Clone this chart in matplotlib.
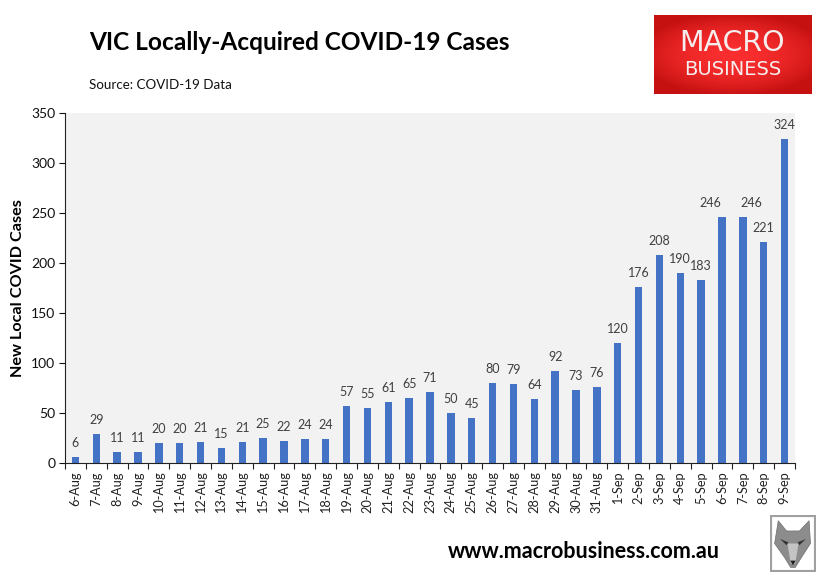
import numpy as np
import matplotlib
matplotlib.use('Agg')
import matplotlib.pyplot as plt
from matplotlib.patches import Rectangle, Polygon

plt.rcParams['font.family'] = ['Lato', 'DejaVu Sans']

days = ['6-Aug', '7-Aug', '8-Aug', '9-Aug', '10-Aug', '11-Aug', '12-Aug', '13-Aug', '14-Aug',
        '15-Aug', '16-Aug', '17-Aug', '18-Aug', '19-Aug', '20-Aug', '21-Aug', '22-Aug', '23-Aug',
        '24-Aug', '25-Aug', '26-Aug', '27-Aug', '28-Aug', '29-Aug', '30-Aug', '31-Aug',
        '1-Sep', '2-Sep', '3-Sep', '4-Sep', '5-Sep', '6-Sep', '7-Sep', '8-Sep', '9-Sep']
cases = [6, 29, 11, 11, 20, 20, 21, 15, 21, 25, 22, 24, 24, 57, 55, 61, 65, 71, 50, 45,
         80, 79, 64, 92, 73, 76, 120, 176, 208, 190, 183, 246, 246, 221, 324]
y_ticks = [0, 50, 100, 150, 200, 250, 300, 350]

W, H = 822, 586
fig = plt.figure(figsize=(W / 100, H / 100), dpi=100, facecolor='white')


def box(x0, y0, x1, y1):
    # pixel box (top-left origin) to figure fractions
    return [x0 / W, 1 - y1 / H, (x1 - x0) / W, (y1 - y0) / H]


ax = fig.add_axes(box(65, 113, 795, 463))
ax.set_facecolor('#f2f2f2')
x = np.arange(len(cases))
ax.bar(x, cases, width=0.36, color='#4472c4')
ax.set_xlim(-0.5, len(cases) - 0.5)
ax.set_ylim(0, 350)

# two labels were dragged sideways in the original, they would overlap otherwise
nudge = {'6-Sep': -8.5, '7-Sep': 6}
for xi, v, d in zip(x, cases, days):
    ax.annotate(str(v), (xi, v), xytext=(nudge.get(d, 0), 6), textcoords='offset points', ha='center',
                va='bottom', fontsize=9, color='#404040')

for s in ['top', 'right']:
    ax.spines[s].set_visible(False)
for s in ['left', 'bottom']:
    ax.spines[s].set_color('#222222')
    ax.spines[s].set_linewidth(0.8)

ax.set_yticks(y_ticks)
ax.tick_params(axis='y', labelsize=10, length=4, width=0.8, pad=3, colors='#111111')
ax.set_xticks(np.append(x - 0.5, x[-1] + 0.5))
ax.set_xticklabels([])
ax.tick_params(axis='x', length=4, width=0.8, direction='out', color='#222222')
ax.set_xticks(x, minor=True)
ax.set_xticklabels(days, minor=True, rotation=90, fontsize=9.2, color='#222222')
ax.tick_params(axis='x', which='minor', length=0, pad=6)
ax.set_ylabel('New Local COVID Cases', fontsize=11.7, fontweight='bold', color='black', labelpad=4)

fig.text(89 / W, 1 - 42.5 / H, 'VIC Locally-Acquired COVID-19 Cases', fontsize=17.6, fontweight='bold',
         va='center', ha='left', color='black')
fig.text(89 / W, 1 - 85 / H, 'Source: COVID-19 Data', fontsize=9.6, va='center', ha='left', color='#111111')
fig.text(448 / W, 1 - 552 / H, 'www.macrobusiness.com.au', fontsize=15.5, fontweight='bold',
         va='center', ha='left', color='black')

# logo with a soft red gradient
logo = fig.add_axes(box(654, 15, 811, 94))
logo.axis('off')
gy, gx = np.mgrid[-1:1:40j, -1:1:80j]
glow = np.clip(1 - (gx ** 2 * 0.7 + gy ** 2 * 0.9), 0, 1)[..., None]
logo.imshow(np.array([0.78, 0.07, 0.07]) + glow * np.array([0.2, 0.11, 0.11]), aspect='auto',
            extent=[0, 1, 0, 1])
logo.set_xlim(0, 1)
logo.set_ylim(0, 1)
logo.text(0.5, 0.645, 'MACRO', color='#f6eeee', fontsize=20.5, family='DejaVu Sans', ha='center', va='center')
logo.text(0.5, 0.316, 'BUSINESS', color='#f6eeee', fontsize=14, family='DejaVu Sans', ha='center', va='center')

# wolf badge, rough head shape
wolf = fig.add_axes(box(770, 515, 816, 572))
wolf.set_xlim(0, 1)
wolf.set_ylim(0, 1)
wolf.axis('off')
wolf.add_patch(Rectangle((0, 0), 1, 1, facecolor='white', edgecolor='#a0a0a0', linewidth=3))
wolf.add_patch(Polygon([(0.18, 0.9), (0.36, 0.72), (0.64, 0.72), (0.85, 0.9), (0.88, 0.5),
                        (0.68, 0.25), (0.55, 0.08), (0.45, 0.08), (0.32, 0.25), (0.1, 0.5)],
                       facecolor='#8c8c8c', edgecolor='#707070', linewidth=0.5))
wolf.add_patch(Polygon([(0.38, 0.5), (0.62, 0.5), (0.55, 0.15), (0.45, 0.15)], facecolor='#c4c4c4'))
wolf.add_patch(Polygon([(0.22, 0.58), (0.4, 0.52), (0.36, 0.47)], facecolor='#333333'))
wolf.add_patch(Polygon([(0.78, 0.58), (0.6, 0.52), (0.64, 0.47)], facecolor='#333333'))
wolf.add_patch(Polygon([(0.44, 0.2), (0.56, 0.2), (0.5, 0.12)], facecolor='#222222'))

fig.savefig('out.png', dpi=100, facecolor='white')
